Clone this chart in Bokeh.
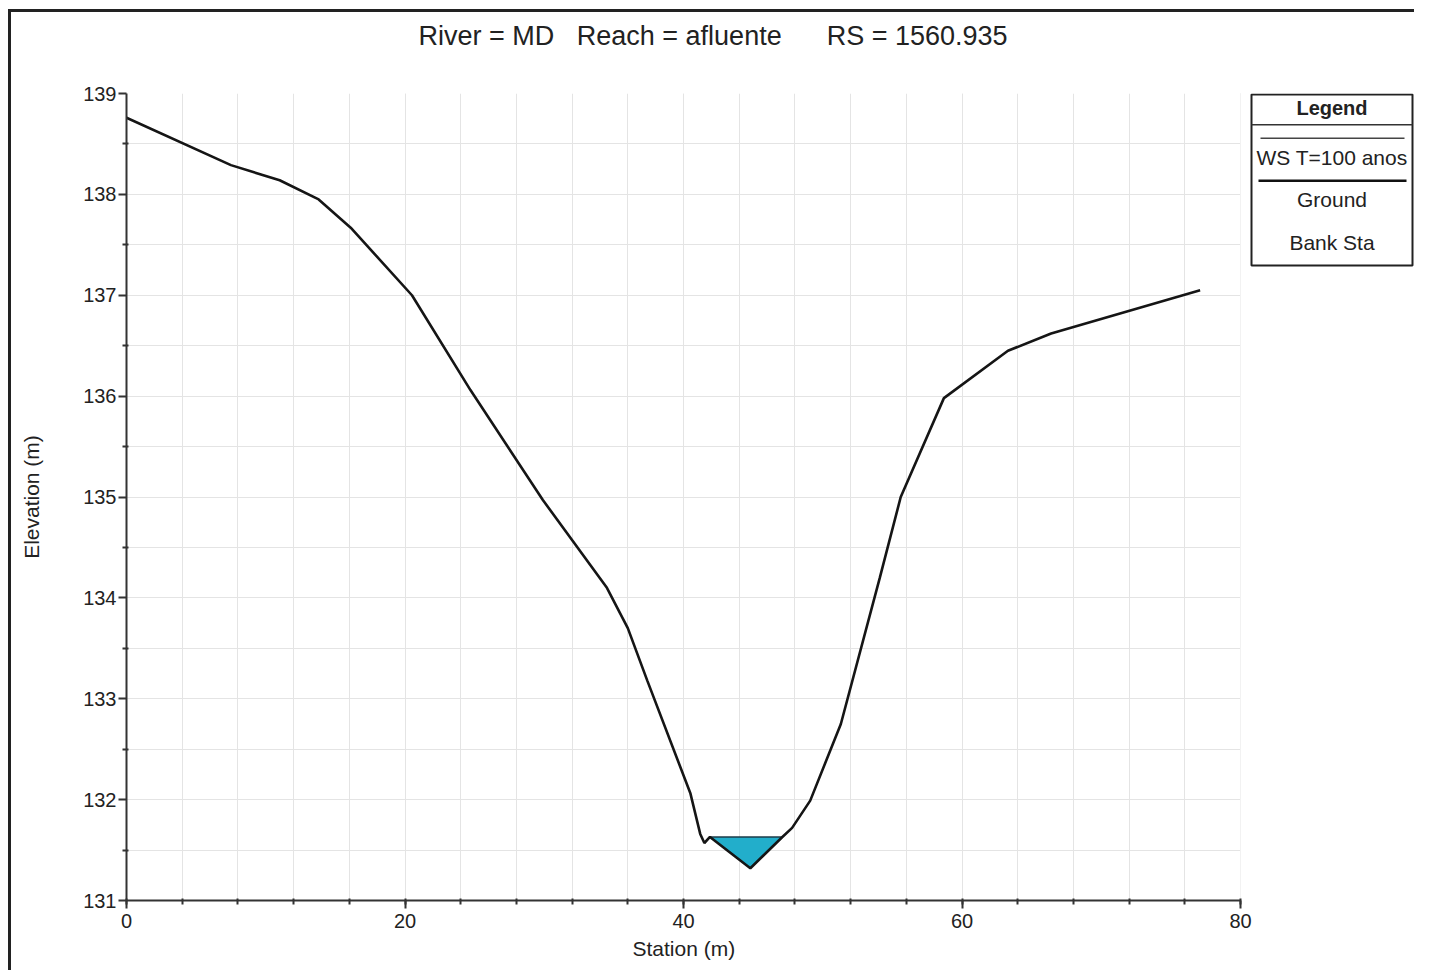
import numpy as np
from bokeh.plotting import figure
from bokeh.models import Range1d, Label, BoxAnnotation, Title, FixedTicker
from bokeh.embed import file_html
from bokeh.resources import INLINE

# ---------------- data ----------------
station = [0.0, 7.5, 11.0, 13.8, 16.1, 20.5, 24.7, 29.9, 34.5, 36.0, 37.4, 40.5,
           41.2, 41.5, 41.9, 44.8, 47.1, 47.8, 49.1, 51.3, 54.1, 55.6, 58.7,
           63.3, 66.4, 77.1]
elevation = [138.76, 138.29, 138.14, 137.95, 137.67, 137.00, 136.06, 134.97, 134.10,
             133.70, 133.18, 132.06, 131.66, 131.57, 131.63, 131.32, 131.63, 131.72,
             131.99, 132.75, 134.20, 135.00, 135.98, 136.45, 136.62, 137.05]
ws_elevation = 131.63

x_ticks = [0, 20, 40, 60, 80]
x_minor = list(range(0, 81, 4))
y_ticks = [131, 132, 133, 134, 135, 136, 137, 138, 139]
y_minor = [v + 0.5 for v in y_ticks[:-1]]

title_text = "River = MD\u00a0\u00a0\u00a0Reach = afluente\u00a0\u00a0\u00a0\u00a0\u00a0\u00a0RS = 1560.935"
x_label = "Station (m)"
y_label = "Elevation (m)"
legend_title = "Legend"
legend_labels = ["WS T=100 anos", "Ground", "Bank Sta"]

FONT = "Liberation Sans"

# ---------------- layout constants (pixels) ----------------
W, H = 1414, 970
FL, FT, FB = 126, 93, 900          # frame left / top / bottom
PX_AXIS_END = 1240                 # pixel of x = 80
X0, X1 = x_ticks[0], x_ticks[-1]
x_per_px = (X1 - X0) / (PX_AXIS_END - FL)
y_per_px = (y_ticks[-1] - y_ticks[0]) / (FB - FT)
x_end = X0 + (W - FL) * x_per_px   # frame extends to the right edge (legend lives there)


def dx(px):
    return X0 + (px - FL) * x_per_px


def dy(py):
    return y_ticks[-1] - (py - FT) * y_per_px


# ---------------- water polygon from ground + WS ----------------
st = np.array(station)
el = np.array(elevation)
imin = int(np.argmin(el))
il = imin
while il > 0 and el[il - 1] < ws_elevation:
    il -= 1
ir = imin
while ir < len(el) - 1 and el[ir + 1] < ws_elevation:
    ir += 1
xl = st[il - 1] + (ws_elevation - el[il - 1]) * (st[il] - st[il - 1]) / (el[il] - el[il - 1])
xr = st[ir] + (ws_elevation - el[ir]) * (st[ir + 1] - st[ir]) / (el[ir + 1] - el[ir])
wx = [xl] + list(st[il:ir + 1]) + [xr]
wy = [ws_elevation] + list(np.minimum(el[il:ir + 1], ws_elevation)) + [ws_elevation]

# ---------------- figure ----------------
p = figure(width=W, height=H, output_backend="svg", toolbar_location=None,
           x_range=Range1d(X0, x_end), y_range=Range1d(y_ticks[0], y_ticks[-1]),
           min_border_left=FL, min_border_right=0, min_border_top=FT, min_border_bottom=H - FB,
           background_fill_color="white", border_fill_color=None)
p.outline_line_color = None
p.title = None
# sheet border lines (left and top) painted behind the transparent canvas border
p.styles = {
    "background-color": "white",
    "background-image": "linear-gradient(#222222, #222222), linear-gradient(#222222, #222222)",
    "background-size": "3px 100%, 100% 3px",
    "background-position": "8px 9px, 8px 9px",
    "background-repeat": "no-repeat",
}

# spacer (nearest the frame) then the chart title above it
p.add_layout(Title(text="\u00a0", text_font_size="1px", standoff=40), "above")
p.add_layout(Title(text=title_text, align="left", offset=418 - 126, standoff=0,
                   text_font=FONT, text_font_size="27px", text_font_style="normal",
                   text_color="#222222"), "above")

# grid
for g in (p.xgrid, p.ygrid):
    g.grid_line_color = "#e4e4e4"
    g.grid_line_width = 1
    g.minor_grid_line_color = "#e4e4e4"
    g.minor_grid_line_width = 1

p.xaxis.ticker = FixedTicker(ticks=x_ticks, minor_ticks=x_minor)
p.yaxis.ticker = FixedTicker(ticks=y_ticks, minor_ticks=y_minor)
p.xaxis.bounds = (X0, X1)

for ax in (p.xaxis, p.yaxis):
    ax.axis_line_color = "#333333"
    ax.axis_line_width = 2
    ax.major_tick_line_color = "#333333"
    ax.major_tick_line_width = 2
    ax.minor_tick_line_color = "#333333"
    ax.minor_tick_line_width = 2
    ax.major_tick_out = 8
    ax.major_tick_in = 0
    ax.minor_tick_out = 4
    ax.minor_tick_in = 2
    ax.major_label_text_font = FONT
    ax.major_label_text_font_size = "20px"
    ax.major_label_text_color = "#222222"
    ax.axis_label_text_font = FONT
    ax.axis_label_text_font_size = "21px"
    ax.axis_label_text_font_style = "normal"
    ax.axis_label_text_color = "#222222"

p.yaxis.axis_label = y_label
p.xaxis.major_label_standoff = 5
p.yaxis.major_label_standoff = 2
p.yaxis.axis_label_standoff = 37

# x-axis label as a 'below' title so it centres on the 0-80 axis, not the wide frame
p.add_layout(Title(text=x_label, align="left", offset=632 - 126, standoff=8,
                   text_font=FONT, text_font_size="21px", text_font_style="normal",
                   text_color="#222222"), "below")

# white cover right of the x-axis end (grid stops at 80)
p.add_layout(BoxAnnotation(left=X1, fill_color="white", fill_alpha=1.0, line_color=None,
                           level="underlay"))

# water
p.varea(x=wx, y1=wy, y2=[ws_elevation] * len(wx), fill_color="#22AECB", fill_alpha=1.0)
p.line(x=[xl, xr], y=[ws_elevation, ws_elevation], line_color="#1d3b48", line_width=1.5)

# ground
p.line(x=station, y=elevation, line_color="#151515", line_width=2.6)

# ---------------- legend box ----------------


def dbox(l, r, t, b, **kw):
    return BoxAnnotation(left=dx(l), right=dx(r), top=dy(t), bottom=dy(b), **kw)


p.add_layout(dbox(1251, 1412, 94, 265, fill_color="white", fill_alpha=1.0,
                  line_color="#222222", line_alpha=1.0, line_width=2))
p.add_layout(dbox(1251, 1412, 123.5, 125, fill_color="#333333", fill_alpha=1.0, line_color=None))
p.add_layout(dbox(1260, 1404, 137, 138.5, fill_color="#444444", fill_alpha=1.0, line_color=None))
p.add_layout(dbox(1258, 1406, 179, 181.5, fill_color="#111111", fill_alpha=1.0, line_color=None))

LX = (1251 + 1412) / 2
p.add_layout(Label(x=dx(LX), y=dy(107), text=legend_title, text_align="center",
                   text_baseline="middle", text_font=FONT, text_font_size="20px",
                   text_font_style="bold", text_color="#222222"))
for lbl, py in zip(legend_labels, [157, 199, 242]):
    p.add_layout(Label(x=dx(LX), y=dy(py), text=lbl, text_align="center",
                       text_baseline="middle", text_font=FONT, text_font_size="21px",
                       text_color="#222222"))

open("out.html", "w").write(file_html(p, INLINE))
